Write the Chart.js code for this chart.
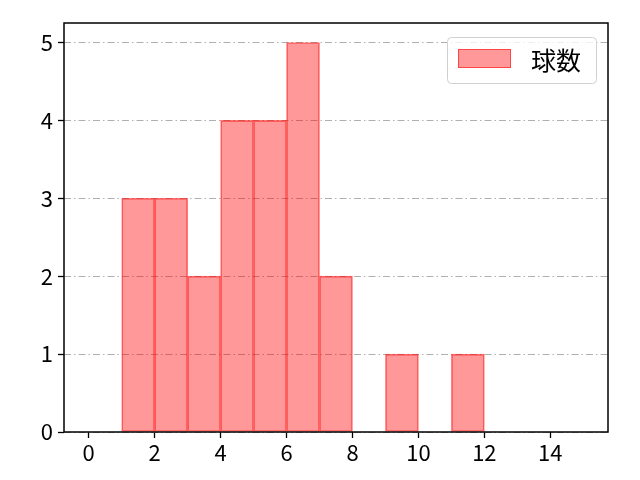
<!DOCTYPE html>
<html>
<head>
<meta charset="utf-8">
<script src="https://cdn.jsdelivr.net/npm/chart.js@4.4.1/dist/chart.umd.min.js"></script>
<style>
  html, body { margin: 0; padding: 0; background: #fff; }
  canvas { display: block; }
</style>
</head>
<body>
<canvas id="histChart" width="640" height="480"></canvas>
<script>
// --- data ---
const binCenters = [1.5, 2.5, 3.5, 4.5, 5.5, 6.5, 7.5, 8.5, 9.5, 10.5, 11.5];
const binCounts  = [3, 3, 2, 4, 4, 5, 2, 0, 1, 0, 1];
const xTicks = [0, 2, 4, 6, 8, 10, 12, 14];
const yTicks = [0, 1, 2, 3, 4, 5];
const seriesLabel = '球数';

const FONT = '"Noto Sans CJK JP", "Noto Sans", sans-serif';
const FILL = 'rgba(255,0,0,0.4)';
const EDGE = 'rgba(255,0,0,0.55)';

// frame round the plot + legend in the upper right corner
const framePlugin = {
    id: 'frame',
    afterDraw(chart) {
        const { ctx, chartArea: a } = chart;
        ctx.save();
        ctx.strokeStyle = '#000';
        ctx.lineWidth = 1.5;
        ctx.strokeRect(a.left, a.top, a.right - a.left, a.bottom - a.top);

        // legend box
        const ds = chart.data.datasets[0];
        const w = 149, h = 46;
        const x = a.right - 12 - w, y = a.top + 14;
        ctx.fillStyle = 'rgba(255,255,255,0.8)';
        ctx.strokeStyle = '#d0d0d0';
        ctx.lineWidth = 1;
        ctx.beginPath();
        ctx.roundRect(x + 0.5, y + 0.5, w, h, 4);
        ctx.fill();
        ctx.stroke();

        ctx.fillStyle = ds.backgroundColor;
        ctx.fillRect(x + 11, y + 12, 53, 19);
        ctx.strokeStyle = ds.borderColor;
        ctx.strokeRect(x + 11.5, y + 12.5, 52, 18);

        ctx.fillStyle = '#000';
        ctx.font = '25px ' + FONT;
        ctx.textBaseline = 'middle';
        ctx.fillText(ds.label, x + 84, y + 23);
        ctx.restore();
    }
};

const ctx = document.getElementById('histChart').getContext('2d');
new Chart(ctx, {
    type: 'bar',
    data: {
        datasets: [{
            label: seriesLabel,
            data: binCenters.map((c, i) => ({ x: c, y: binCounts[i] })),
            backgroundColor: FILL,
            borderColor: EDGE,
            borderWidth: 1,
            borderSkipped: false,
            barPercentage: 1,
            categoryPercentage: 1
        }]
    },
    options: {
        responsive: false,
        animation: false,
        layout: { padding: { left: 0, top: 23, right: 32, bottom: 0 } },
        plugins: { legend: { display: false }, tooltip: { enabled: false } },
        scales: {
            x: {
                type: 'linear',
                min: -0.75, max: 15.75,
                offset: false,
                afterBuildTicks: s => { s.ticks = xTicks.map(v => ({ value: v })); },
                afterFit: s => { s.height = 48; },
                grid: { offset: false, drawOnChartArea: false, tickLength: 6, tickColor: '#000', tickWidth: 1.3 },
                border: { display: false },
                ticks: { color: '#000', font: { family: FONT, size: 22 }, padding: 1, maxRotation: 0 }
            },
            y: {
                min: 0, max: 5.25,
                afterBuildTicks: s => { s.ticks = yTicks.map(v => ({ value: v })); },
                afterFit: s => { s.width = 64; },
                grid: { color: '#b0b0b0', lineWidth: 1, tickLength: 6, tickColor: '#000', tickWidth: 1.3, tickBorderDash: [] },
                border: { display: false, dash: [7, 3, 1.5, 3] },
                ticks: { color: '#000', font: { family: FONT, size: 22 }, padding: 5 }
            }
        }
    },
    plugins: [framePlugin]
});
</script>
</body>
</html>
